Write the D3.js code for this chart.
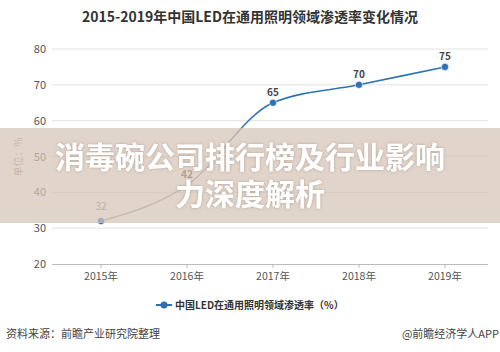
<!DOCTYPE html>
<html><head><meta charset="utf-8">
<script src="https://cdn.jsdelivr.net/npm/d3@7/dist/d3.min.js"></script>
<style>body{margin:0;background:#fff}svg{display:block}</style>
</head><body>
<script>
const years = ["2015年","2016年","2017年","2018年","2019年"];
const values = [32, 42, 65, 70, 75];
const yTicks = [20, 30, 40, 50, 60, 70, 80];
const title = "2015-2019年中国LED在通用照明领域渗透率变化情况";
const seriesName = "中国LED在通用照明领域渗透率（%）";
const yLabel = "单位：%";
const source = "资料来源：前瞻产业研究院整理";
const credit = "@前瞻经济学人APP";
const bannerLines = ["消毒碗公司排行榜及行业影响", "力深度解析"];

const W = 500, H = 352;
const font = "'Noto Sans CJK SC','Noto Sans',sans-serif";
const svg = d3.select("body").append("svg").attr("width", W).attr("height", H)
  .style("font-family", font);

const x = d3.scaleBand().domain(years).range([58, 488]);
const y = d3.scaleLinear().domain([20, 80]).range([264, 49]);

svg.append("text").attr("x", 250).attr("y", 22).attr("text-anchor", "middle")
  .attr("font-size", 14).attr("font-weight", "bold").attr("fill", "#333").text(title);

// grid
svg.append("g").selectAll("line").data(yTicks.filter(d => d > 20)).join("line")
  .attr("x1", 52).attr("x2", 488).attr("y1", d => y(d)).attr("y2", d => y(d))
  .attr("stroke", "#e3e3e3").attr("stroke-width", 1);

// y axis labels
const ya = svg.append("g").attr("transform", "translate(52,0)")
  .call(d3.axisLeft(y).tickValues(yTicks).tickSize(0).tickPadding(6));
ya.select(".domain").remove();
ya.selectAll("text").attr("font-size", 11).attr("fill", "#555").style("font-family", font);

// x axis
const xa = svg.append("g").attr("transform", "translate(0,264)")
  .call(d3.axisBottom(x).tickSizeOuter(0).tickSize(4).tickPadding(5));
xa.select(".domain").attr("stroke", "#bbb").attr("d", "M52,0.5H488");
xa.selectAll(".tick line").attr("stroke", "#bbb");
xa.selectAll("text").attr("font-size", 10.5).attr("fill", "#555").style("font-family", font);

svg.append("text").attr("transform", "translate(22,157) rotate(-90)")
  .attr("text-anchor", "middle").attr("font-size", 10).attr("fill", "#999").text(yLabel);

// gradient line
const defs = svg.append("defs");
const gr = defs.append("linearGradient").attr("id", "lg").attr("gradientUnits", "userSpaceOnUse")
  .attr("x1", x(years[0]) + x.bandwidth()/2).attr("x2", x(years[4]) + x.bandwidth()/2)
  .attr("y1", 0).attr("y2", 0);
gr.append("stop").attr("offset", 0).attr("stop-color", "#a8acb0");
gr.append("stop").attr("offset", 0.33).attr("stop-color", "#9aa2aa");
gr.append("stop").attr("offset", 0.45).attr("stop-color", "#2f73b5");
gr.append("stop").attr("offset", 1).attr("stop-color", "#2f73b5");

const cx = d => x(d) + x.bandwidth()/2;
const line = d3.line().x((d, i) => cx(years[i])).y(d => y(d)).curve(d3.curveMonotoneX);
svg.append("path").datum(values).attr("d", line).attr("fill", "none")
  .attr("stroke", "url(#lg)").attr("stroke-width", 1.6);

const pts = values.map((v, i) => ({v, i})).filter(p => p.i !== 1);
svg.append("g").selectAll("circle").data(pts).join("circle")
  .attr("cx", p => cx(years[p.i])).attr("cy", p => y(p.v)).attr("r", 3.6)
  .attr("fill", "#2f6fb5")
  .attr("stroke", "#fff").attr("stroke-width", 0.6);

svg.append("g").selectAll("text").data(values).join("text")
  .attr("x", (d, i) => cx(years[i])).attr("y", (d, i) => y(d) - (i === 0 ? 11 : 7))
  .attr("text-anchor", "middle").attr("font-size", 10).attr("font-weight", (d, i) => i >= 1 ? "bold" : "normal")
  .attr("fill", (d, i) => i >= 1 ? "#444" : "#777").text(d => d);

// legend
const lg = svg.append("g");
lg.append("line").attr("x1", 156).attr("x2", 172).attr("y1", 305).attr("y2", 305)
  .attr("stroke", "#2f6fb5").attr("stroke-width", 2);
lg.append("circle").attr("cx", 164).attr("cy", 305).attr("r", 3.5).attr("fill", "#2f6fb5");
lg.append("text").attr("x", 175).attr("y", 309).attr("font-size", 10).attr("font-weight", "bold")
  .attr("fill", "#333").text(seriesName);

// footer
svg.append("text").attr("x", 6).attr("y", 338).attr("font-size", 11).attr("fill", "#444").text(source);
svg.append("text").attr("x", 499).attr("y", 338).attr("text-anchor", "end").attr("font-size", 11)
  .attr("fill", "#444").text(credit);

// banner
svg.append("rect").attr("x", 0).attr("y", 128).attr("width", W).attr("height", 95)
  .attr("fill", "rgb(214,196,182)").attr("opacity", 0.72);
const f = defs.append("filter").attr("id", "sh").attr("x", "-10%").attr("y", "-30%").attr("width", "120%").attr("height", "160%");
f.append("feDropShadow").attr("dx", 0).attr("dy", 0).attr("stdDeviation", 1.5)
  .attr("flood-color", "#8a7060").attr("flood-opacity", 0.5);
svg.append("g").selectAll("text").data(bannerLines).join("text")
  .attr("x", 250).attr("y", (d, i) => 168 + i * 37).attr("text-anchor", "middle")
  .attr("font-size", 30).attr("font-weight", "bold").attr("fill", "#fff")
  .attr("filter", "url(#sh)").text(d => d);
</script>
</body></html>
